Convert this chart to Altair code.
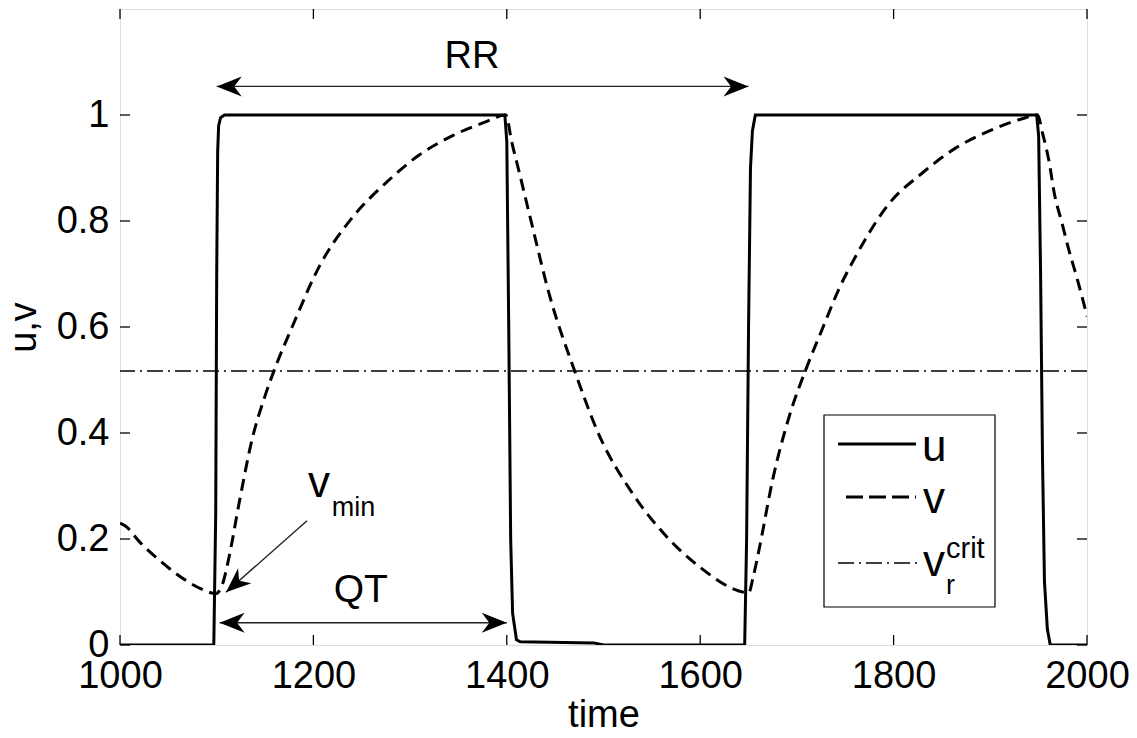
import altair as alt
import pandas as pd

# ---------------- data ----------------
u_time = [1000, 1097, 1099, 1100, 1101, 1102, 1104, 1108,
          1398, 1400, 1402, 1404, 1406, 1410, 1414, 1490, 1500,
          1646, 1648, 1650, 1652, 1654, 1657,
          1948, 1950, 1952, 1954, 1956, 1959, 1962, 2000]
u_val = [0, 0, 0.25, 0.7, 0.93, 0.98, 0.995, 1.0,
         1.0, 0.95, 0.6, 0.2, 0.06, 0.01, 0.006, 0.004, 0,
         0, 0.2, 0.6, 0.9, 0.97, 1.0,
         1.0, 0.96, 0.7, 0.35, 0.12, 0.03, 0, 0]

v_time = [1000, 1006, 1020, 1044, 1068, 1085, 1099,
          1106, 1113, 1123, 1137, 1150, 1163, 1178, 1206, 1240, 1275, 1309, 1344, 1378, 1399,
          1405, 1413, 1426, 1444, 1470, 1495, 1530, 1564, 1599, 1640, 1650,
          1655, 1661, 1675, 1692, 1711, 1726, 1744, 1761, 1795, 1830, 1864, 1899, 1933, 1949,
          1954, 1961, 1966, 1974, 1981, 1990, 1997, 2000]
v_val = [0.23, 0.224, 0.195, 0.155, 0.122, 0.105, 0.097,
         0.115, 0.168, 0.266, 0.391, 0.47, 0.535, 0.60, 0.714, 0.806, 0.872, 0.924, 0.961, 0.987, 1.0,
         0.95, 0.891, 0.793, 0.661, 0.518, 0.398, 0.286, 0.207, 0.148, 0.102, 0.098,
         0.13, 0.181, 0.3125, 0.431, 0.528, 0.595, 0.674, 0.734, 0.832, 0.891, 0.9375, 0.970, 0.993, 1.0,
         0.966, 0.91, 0.854, 0.797, 0.747, 0.69, 0.642, 0.62]

v_crit = 0.517
x_ticks = [1000, 1200, 1400, 1600, 1800, 2000]
y_ticks = [0, 0.2, 0.4, 0.6, 0.8, 1.0]

# annotation arrows (time, value) -> (time2, value2)
arrow_t = [1100, 1103, 1193.4]
arrow_v = [1.054, 0.042, 0.2345]
arrow_t2 = [1650, 1400, 1109.6]
arrow_v2 = [1.054, 0.042, 0.0994]
head_t = [1100, 1650, 1103, 1400, 1109.6]
head_v = [1.054, 1.054, 0.042, 0.042, 0.0994]
head_angle = [180, 0, 180, 0, 138.5]

# ---------------- chart ----------------
W, H = 967, 636
FONT = "Liberation Sans"
xs = alt.Scale(domain=[1000, 2000], nice=False, zero=False)
ys = alt.Scale(domain=[0, 1.2], nice=False, zero=False)
one = pd.DataFrame({"a": [0]})

x_axis = alt.Axis(values=x_ticks, format="d", title="time", ticks=False, tickSize=0,
                  domain=False, grid=False, labelFont=FONT, labelFontSize=38,
                  labelColor="black", labelPadding=12, labelFlush=False, labelOverlap=False,
                  titleFont=FONT, titleFontSize=38, titleFontWeight="normal",
                  titleColor="black", titlePadding=1)
y_axis = alt.Axis(values=y_ticks, format="~g", title="u,v", ticks=False, tickSize=0,
                  domain=False, grid=False, labelFont=FONT, labelFontSize=38,
                  labelColor="black", labelPadding=11, labelOverlap=False, labelFlush=False,
                  titleFont=FONT, titleFontSize=38, titleFontWeight="normal",
                  titleColor="black", titlePadding=13)


def X(field="t"):
    return alt.X(f"{field}:Q", scale=xs, axis=x_axis)


def Y(field="v"):
    return alt.Y(f"{field}:Q", scale=ys, axis=y_axis)


u_df = pd.DataFrame({"t": u_time, "v": u_val})
v_df = pd.DataFrame({"t": v_time, "v": v_val})

u_line = alt.Chart(u_df).mark_line(color="black", strokeWidth=3, clip=True).encode(
    x=X(), y=Y())
v_line = alt.Chart(v_df).mark_line(color="black", strokeWidth=3, strokeDash=[12, 7],
                                   interpolate="monotone", clip=True).encode(x=X(), y=Y())
crit = alt.Chart(pd.DataFrame({"v": [v_crit]})).mark_rule(
    color="black", strokeWidth=1.3, strokeDash=[16, 5, 2, 5]).encode(y=Y())

# inner ticks on all four sides
xt = pd.DataFrame({"t": x_ticks})
yt = pd.DataFrame({"v": y_ticks})
tick_style = dict(color="black", strokeWidth=1.3)
xt_bottom = alt.Chart(xt).mark_rule(**tick_style).encode(
    x=X(), y=alt.value(H), y2=alt.value(H - 10))
xt_top = alt.Chart(xt).mark_rule(**tick_style).encode(
    x=X(), y=alt.value(0), y2=alt.value(10))
yt_left = alt.Chart(yt).mark_rule(**tick_style).encode(
    y=Y(), x=alt.value(0), x2=alt.value(10))
yt_right = alt.Chart(yt).mark_rule(**tick_style).encode(
    y=Y(), x=alt.value(W), x2=alt.value(W - 10))

# annotation arrows
arr_df = pd.DataFrame({"t": arrow_t, "v": arrow_v, "t2": arrow_t2, "v2": arrow_v2})
arrows = alt.Chart(arr_df).mark_rule(color="#222222", strokeWidth=1.4).encode(
    x=X(), x2="t2:Q", y=Y(), y2="v2:Q")
head_df = pd.DataFrame({"t": head_t, "v": head_v, "a": head_angle})
heads = alt.Chart(head_df).mark_point(
    shape="M0,0L-2,-0.8L-1.4,0L-2,0.8Z", filled=True, opacity=1, color="black",
    size=625, strokeWidth=0).encode(
    x=X(), y=Y(), angle=alt.Angle("a:Q", scale=None))


# annotation texts
def label(txt, t, v, size, align="center", baseline="middle"):
    return alt.Chart(pd.DataFrame({"t": [t], "v": [v], "s": [txt]})).mark_text(
        font=FONT, fontSize=size, color="black", align=align, baseline=baseline).encode(
        x=X(), y=Y(), text="s:N")


rr_text = label("RR", 1364, 1.11, 38)
qt_text = label("QT", 1249, 0.103, 39)
vmin_v = label("v", 1194.4, 0.28, 44, align="left", baseline="alphabetic")
vmin_sub = label("min", 1219, 0.244, 27, align="left", baseline="alphabetic")


# legend (drawn by hand because of the sub/superscript label)
def ptext(txt, x, y, size):
    return alt.Chart(one).mark_text(font=FONT, fontSize=size, color="black",
                                    align="left", baseline="alphabetic").encode(
        x=alt.value(x), y=alt.value(y), text=alt.value(txt))


leg_box = alt.Chart(one).mark_rect(fill="white", stroke="black", strokeWidth=1.2).encode(
    x=alt.value(704), x2=alt.value(875), y=alt.value(406), y2=alt.value(598))
leg_u = alt.Chart(one).mark_rule(color="black", strokeWidth=3).encode(
    x=alt.value(718), x2=alt.value(796), y=alt.value(435))
leg_v = alt.Chart(one).mark_rule(color="black", strokeWidth=3, strokeDash=[17, 6]).encode(
    x=alt.value(726), x2=alt.value(796), y=alt.value(488))
leg_c = alt.Chart(one).mark_rule(color="black", strokeWidth=1.3,
                                 strokeDash=[16, 5, 2, 5]).encode(
    x=alt.value(718), x2=alt.value(797), y=alt.value(554))
leg_t1 = ptext("u", 802, 452, 44)
leg_t2 = ptext("v", 803, 504, 44)
leg_t3 = ptext("v", 803, 567, 44)
leg_t4 = ptext("r", 826, 585, 27)
leg_t5 = ptext("crit", 826, 549, 29)

chart = alt.layer(
    u_line, v_line, crit, xt_bottom, xt_top, yt_left, yt_right,
    arrows, heads, rr_text, qt_text, vmin_v, vmin_sub,
    leg_box, leg_u, leg_v, leg_c, leg_t1, leg_t2, leg_t3, leg_t4, leg_t5,
).properties(
    width=W, height=H,
    autosize=alt.AutoSizeParams(type="none"),
    padding={"left": 112, "top": 1, "right": 42, "bottom": 85},
).configure_view(stroke="black", strokeWidth=1.5).configure(background="white")

chart.save("out.html", embed_options={"renderer": "svg", "actions": False})
